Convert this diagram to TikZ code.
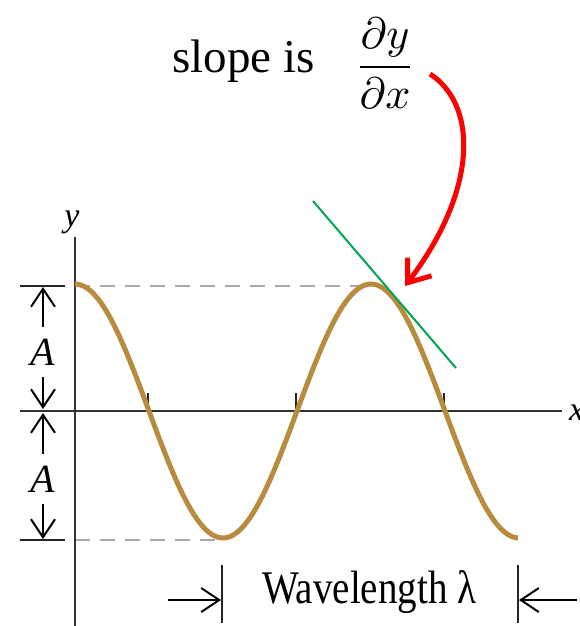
\documentclass[tikz,border=0pt]{standalone}
\usepackage{fontspec}
\setmainfont{Liberation Serif}
\usepackage{amsmath}
\usetikzlibrary{arrows.meta}
\definecolor{wavebrown}{HTML}{B98B3E}
\definecolor{tangentgreen}{HTML}{00A651}
\definecolor{guidegray}{HTML}{A8A8A8}
\definecolor{pointred}{HTML}{FF0000}
\tikzset{
    wv axis/.style={line width=2.5pt, black!80},
    wv curve/.style={line width=5pt, wavebrown},
    wv guide/.style={line width=2pt, guidegray, dash pattern=on 15pt off 10pt},
    wv tick/.style={line width=2pt, black!85},
    wv dim/.style={line width=2pt, black,
                   -{Straight Barb[length=18pt, width=24pt]}},
    wv lbl/.style={font=\fontsize{40}{44}\selectfont\itshape,
                   inner xsep=0pt, inner ysep=12pt},
    wv text/.style={font=\fontsize{39}{44}\selectfont, inner sep=0pt},
    wv tan/.style={line width=2pt, tangentgreen},
    wv point/.style={line width=5pt, pointred,
                     -{Straight Barb[length=20pt, width=30pt]}},
}

\begin{document}
\begin{tikzpicture}[x=1pt, y=-1pt]
    \useasboundingbox (0,0) rectangle (580,626);
    % Title and fraction
    \node[font=\fontsize{47}{52}\selectfont, inner sep=0pt, anchor=base west]
        (slope) at (172,72) {slope is};
    \node[inner sep=0pt, anchor=base]
        (frac) at (385,78) {\scalebox{4.4}{$\dfrac{\partial y}{\partial x}$}};
    % Guides at the extremes
    \draw[wv guide] (75,286) -- (370,286);
    \draw[wv guide] (75,540) -- (222,540);
    % Axes
    \draw[wv axis] (75,237) -- (75,626);
    \draw[wv axis] (20,411) -- (562,411);
    \foreach \tx in {148,296,444}
        \draw[wv tick] (\tx,393) -- (\tx,411);
    \node[font=\fontsize{34}{40}\selectfont\itshape, inner sep=0pt]
        (ylbl) at (72,222) {y};
    \node[font=\fontsize{34}{40}\selectfont\itshape, inner sep=0pt, anchor=west]
        (xlbl) at (569,413) {x};
    % Wave
    \draw[wv curve] plot[domain=75:518, samples=150]
        (\x, {411 - 127*cos(1.21622*(\x-75))});
    % Tangent
    \coordinate (tanA) at (313,201);
    \coordinate (tanB) at (456,368);
    \draw[wv tan] (tanA) -- (tanB);
    % Amplitude marks
    \draw[wv tick] (20,286) -- (65,286);
    \draw[wv tick] (20,540) -- (65,540);
    \coordinate (topT) at (43,287);
    \coordinate (midU) at (43,409);
    \coordinate (midD) at (43,413);
    \coordinate (botT) at (43,539);
    \node[wv lbl] (ampUp) at (43,352) {A};
    \node[wv lbl] (ampDn) at (43,479) {A};
    \draw[wv dim] (ampUp.north) -- (topT);
    \draw[wv dim] (ampUp.south) -- (midU);
    \draw[wv dim] (ampDn.north) -- (midD);
    \draw[wv dim] (ampDn.south) -- (botT);
    % Wavelength marks
    \draw[wv tick] (222,565) -- (222,623);
    \draw[wv tick] (518,565) -- (518,623);
    \coordinate (wlL) at (221,600);
    \coordinate (wlR) at (519,600);
    \coordinate (wlLout) at (168,600);
    \coordinate (wlRout) at (577,600);
    \node[wv text, anchor=base west] (wl) at (262,603)
        {\scalebox{1}[1.2]{Wavelength λ}};
    \draw[wv dim] (wlLout) -- (wlL);
    \draw[wv dim] (wlRout) -- (wlR);
    % Pointer to the tangent
    \coordinate (src) at (430,74);
    \coordinate (touch) at (405,286);
    \draw[wv point] (src) .. controls (478,105) and (478,190) .. (touch);
\end{tikzpicture}
\end{document}
